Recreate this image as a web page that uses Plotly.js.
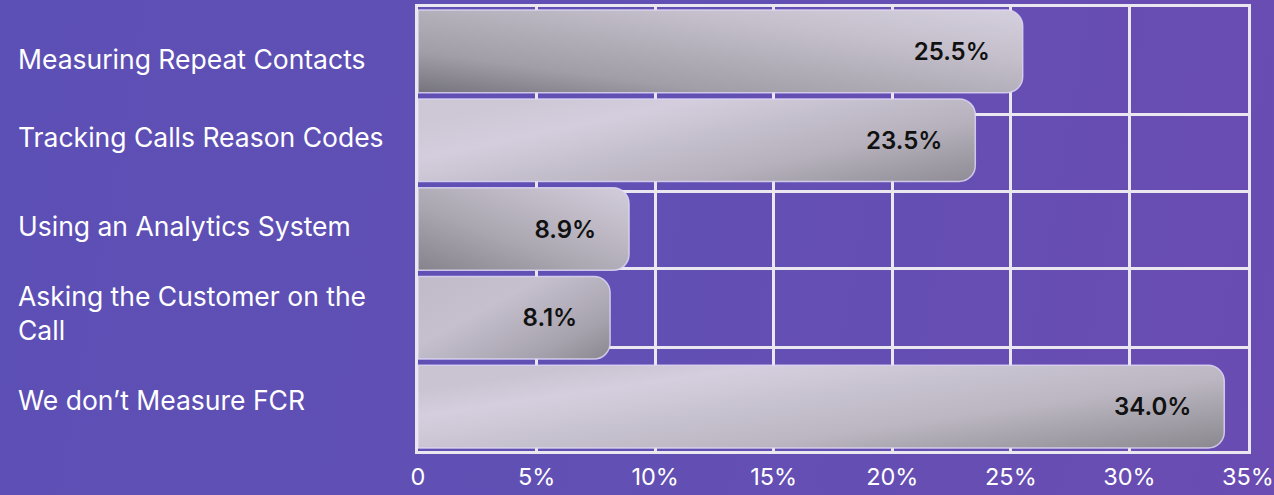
<!DOCTYPE html>
<html>
<head>
<meta charset="utf-8">
<script src="https://cdn.plot.ly/plotly-3.0.1.min.js"></script>
<style>
  html, body { margin: 0; padding: 0; width: 1274px; height: 495px; overflow: hidden;
    background: linear-gradient(100deg, #5c4fb5 0%, #6150b4 45%, #6a4cb2 100%); }
  #chart { width: 1274px; height: 495px; }
</style>
</head>
<body>
<div id="chart"></div>
<script>
// ---- data ----
const categories = [
  'Measuring Repeat Contacts',
  'Tracking Calls Reason Codes',
  'Using an Analytics System',
  'Asking the Customer on the Call',
  'We don\u2019t Measure FCR'
];
const categoryLabels = [
  'Measuring Repeat Contacts',
  'Tracking Calls Reason Codes',
  'Using an Analytics System',
  'Asking the Customer on the<br>Call',
  'We don\u2019t Measure FCR'
];
const values = [25.5, 23.5, 8.9, 8.1, 34.0];
const valueLabels = ['25.5%', '23.5%', '8.9%', '8.1%', '34.0%'];
const xTickVals = [0, 5, 10, 15, 20, 25, 30, 35];
const xTickText = ['0', '5%', '10%', '15%', '20%', '25%', '30%', '35%'];

// ---- styles ----
const FONT = 'Inter, "Noto Sans", "DejaVu Sans", sans-serif';
const GRID = '#ebe7f1';
const PAD = '\u00a0\u00a0\u00a0\u00a0';
const LABEL_NUDGE = [-8, 3, 3, 5, 7];   // small vertical nudges (px) of the row labels

const barTrace = {
  type: 'bar',
  orientation: 'h',
  y: categories,
  x: values,
  text: valueLabels.map(t => t + PAD),
  textposition: 'inside',
  insidetextanchor: 'end',
  constraintext: 'none',
  textangle: 0,
  textfont: { family: FONT, size: 24, color: '#111111', weight: 600 },
  marker: {
    color: '#b8b3c0',
    cornerradius: 16,
    line: { color: 'rgba(222,214,244,0.85)', width: 1.5 }
  },
  hoverinfo: 'skip',
  showlegend: false
};

// empty helper trace so the overlay axis (horizontal grid) exists
const gridTrace = {
  type: 'scatter', x: [], y: [], yaxis: 'y2', xaxis: 'x',
  showlegend: false, hoverinfo: 'skip'
};

const annotations = categories.map((c, i) => ({
  xref: 'paper', yref: 'y',
  x: 0, y: c,
  xshift: -402,
  yshift: LABEL_NUDGE[i],
  xanchor: 'left', yanchor: 'middle', align: 'left',
  text: categoryLabels[i],
  showarrow: false,
  font: { family: FONT, size: 26.5, color: '#ffffff' }
}));

const layout = {
  width: 1274, height: 495,
  margin: { l: 418, r: 26, t: 7, b: 44, pad: 0 },
  paper_bgcolor: 'rgba(0,0,0,0)',
  plot_bgcolor: 'rgba(0,0,0,0)',
  bargap: 0.07,
  font: { family: FONT, color: '#ffffff' },
  xaxis: {
    range: [0, 35],
    tickvals: xTickVals,
    ticktext: xTickText,
    showgrid: true, gridcolor: GRID, gridwidth: 3,
    zeroline: false,
    showline: true, mirror: true, linecolor: GRID, linewidth: 3,
    ticks: 'outside', ticklen: 3, tickcolor: 'rgba(0,0,0,0)',
    ticklabeloverflow: 'allow',
    tickfont: { family: FONT, size: 23.5, color: '#ffffff' },
    fixedrange: true
  },
  yaxis: {
    type: 'category',
    autorange: 'reversed',
    showgrid: false, zeroline: false,
    showticklabels: false, ticks: '',
    showline: true, mirror: true, linecolor: GRID, linewidth: 3,
    fixedrange: true
  },
  yaxis2: {
    overlaying: 'y',
    range: [0, 1],
    tickvals: [0.233, 0.41, 0.584, 0.758],
    showgrid: true, gridcolor: GRID, gridwidth: 3,
    showticklabels: false, ticks: '', zeroline: false, showline: false,
    fixedrange: true
  },
  annotations: annotations
};

// gradient fills for bars (drawn on the bar paths Plotly created)
const gradients = [
  { x1: 0, y1: 1, x2: 1, y2: 0, stops: [['0', '#75737b'], ['0.25', '#a19ea7'], ['0.7', '#c4bfcb'], ['1', '#d6d0de']] },
  { x1: 0, y1: 0.3, x2: 1, y2: 1, stops: [['0', '#cdc7d6'], ['0.2', '#d3cddd'], ['0.65', '#b6b1bc'], ['1', '#8f8c95']] },
  { x1: 0, y1: 1, x2: 1, y2: 0, stops: [['0', '#85838b'], ['0.4', '#aba7b1'], ['1', '#d3cddb']] },
  { x1: 0, y1: 0.2, x2: 1, y2: 1, stops: [['0', '#c2bcca'], ['0.3', '#c6c0ce'], ['0.75', '#a6a2ad'], ['1', '#89878f']] },
  { x1: 0, y1: 0.3, x2: 1, y2: 1, stops: [['0', '#c9c3d2'], ['0.15', '#d4cede'], ['0.6', '#bbb6c1'], ['1', '#8a888f']] }
];

Plotly.newPlot('chart', [gridTrace, barTrace], layout, { displayModeBar: false, staticPlot: true }).then(gd => {
  const svg = gd.querySelector('svg.main-svg');
  const NS = 'http://www.w3.org/2000/svg';
  const defs = document.createElementNS(NS, 'defs');
  gradients.forEach((g, i) => {
    const lg = document.createElementNS(NS, 'linearGradient');
    lg.setAttribute('id', 'barGrad' + i);
    lg.setAttribute('x1', g.x1); lg.setAttribute('y1', g.y1);
    lg.setAttribute('x2', g.x2); lg.setAttribute('y2', g.y2);
    g.stops.forEach(s => {
      const st = document.createElementNS(NS, 'stop');
      st.setAttribute('offset', s[0]);
      st.setAttribute('stop-color', s[1]);
      lg.appendChild(st);
    });
    defs.appendChild(lg);
  });
  svg.insertBefore(defs, svg.firstChild);
  const paths = gd.querySelectorAll('.barlayer .trace .point path');
  paths.forEach((p, i) => { p.style.fill = 'url(#barGrad' + i + ')'; });
});
</script>
</body>
</html>
